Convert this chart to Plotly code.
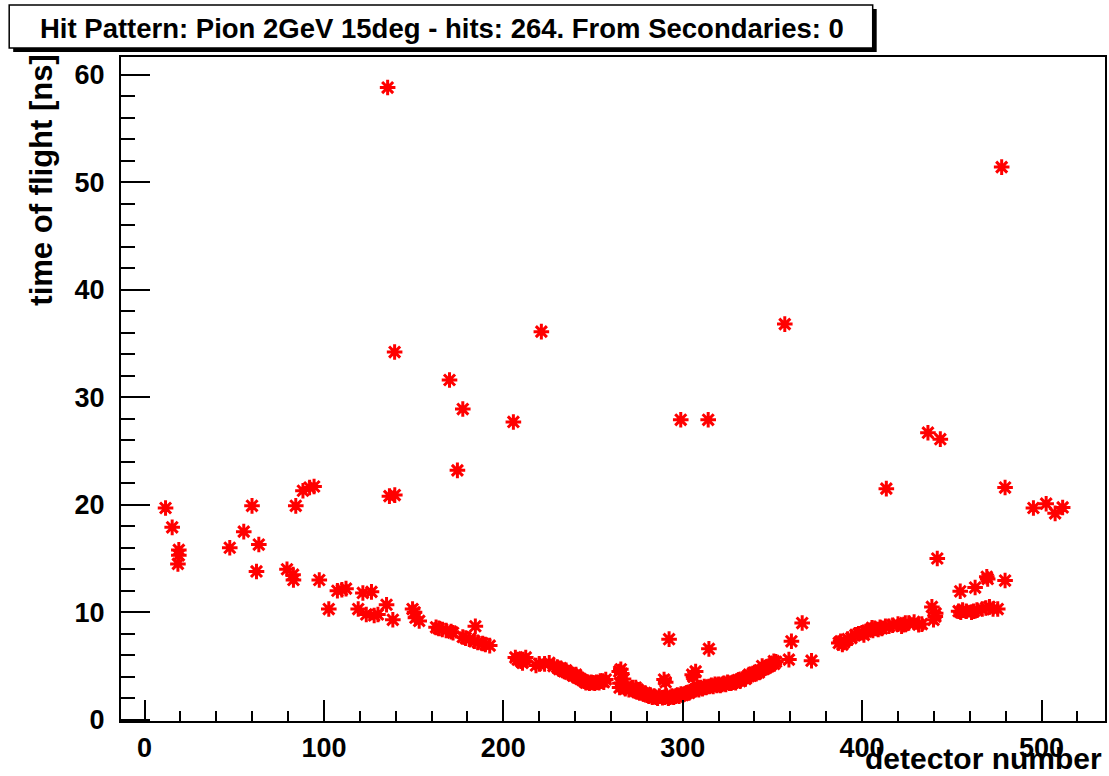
import plotly.graph_objects as go

# ---------------- data ----------------
det_left = [11.7, 15.4, 19.1, 19.1, 18.6, 47.5, 55.3, 59.9, 63.7, 62.4, 79.4, 82.8, 83.0,
            84.3, 88.3, 92.0, 94.5, 97.4]
tof_left = [19.7, 17.9, 15.8, 15.3, 14.5, 16.0, 17.5, 19.9, 16.3, 13.8, 14.0, 13.5, 13.0,
            19.9, 21.3, 21.6, 21.7, 13.0]

det_mid1 = [102.7, 107.5, 110.0, 112.3, 119.1, 121.7, 123.6, 126.5, 128.0, 130.1, 134.9, 138.4,
            136.5, 139.5, 135.5, 139.4, 149.4, 150.5, 151.0, 153.1]
tof_mid1 = [10.3, 12.0, 12.1, 12.2, 10.3, 11.8, 9.8, 11.9, 9.7, 9.8, 10.7, 9.3,
            20.8, 20.9, 58.8, 34.2, 10.3, 10.0, 9.5, 9.2]

det_mid2 = [162.5, 164.0, 166.0, 168.1, 170.9, 172.0, 174.4, 170.0, 177.4, 177.4, 179.0, 181.0,
            183.9, 184.4, 185.7, 188.5, 190.0, 192.4, 205.6, 206.7, 208.0, 209.8, 211.0, 210.7,
            212.5, 218.2, 220.0, 221.2, 223.0, 225.6, 228.0]
tof_mid2 = [8.6, 8.5, 8.4, 8.3, 8.2, 8.1, 23.2, 31.6, 28.9, 7.7, 7.6, 7.5,
            7.3, 8.7, 7.2, 7.1, 7.0, 6.9, 27.7, 5.8, 5.6, 5.45, 5.6, 5.3,
            5.8, 5.05, 5.2, 36.1, 5.2, 5.3, 5.0]

det_band = [230, 231.2, 232, 233, 234, 235, 236, 237, 238.6, 239, 240.5, 241, 242, 243, 244,
            245, 246, 247, 248, 249, 250, 251, 252, 253.4, 254, 255.3, 256, 257.1,
            264.6, 265.5, 266, 264.8, 265, 266.5, 267, 268, 269, 270, 271, 272, 273, 273.8,
            274.5, 275, 276, 277, 278, 279, 280, 281.2, 282, 283, 284, 285, 286, 287, 288.7,
            289.6, 290.5, 290, 291, 292, 292.4, 293, 294, 295, 296.1, 297, 298, 298.9, 299,
            300, 301, 302, 303.5, 304, 305.3, 306, 307.2, 305, 307, 308, 309, 310, 311, 312,
            313, 314.2, 314.6, 314.6, 316, 317, 318, 319, 320, 321, 322, 323, 324, 325, 326,
            327, 328, 329.5, 330, 331, 332, 333, 334, 335, 336.9, 337, 338, 339, 340, 341,
            342.5, 343, 344.3, 345, 346, 347, 348, 349, 350.8, 351, 352, 356.9, 359.2, 360.6,
            366.6, 371.8]
tof_band = [4.9, 4.7, 4.8, 4.6, 4.5, 4.6, 4.4, 4.3, 4.2, 4.1, 4.2, 4.0, 3.9, 3.8, 3.7,
            3.6, 3.45, 3.5, 3.4, 3.5, 3.45, 3.4, 3.5, 3.45, 3.6, 3.6, 3.5, 3.75,
            4.5, 4.7, 4.3, 3.0, 3.4, 3.1, 3.8, 2.9, 3.1, 2.8, 2.9, 3.0, 2.7, 3.0,
            2.6, 2.8, 2.5, 2.6, 2.4, 2.5, 2.3, 2.2, 2.3, 2.1, 2.2, 2.1, 2.0, 2.2, 2.05,
            3.75, 3.5, 2.1, 2.2, 2.0, 7.5, 2.1, 2.2, 2.1, 2.2, 2.3, 2.2, 27.9, 2.4,
            2.3, 2.4, 2.5, 2.5, 2.6, 4.2, 4.0, 4.5, 2.7, 2.8, 2.9, 2.8, 3.0, 2.9, 3.1,
            3.0, 27.9, 6.6, 3.1, 3.2, 3.1, 3.3, 3.2, 3.3, 3.2, 3.3, 3.4, 3.3, 3.5, 3.4,
            3.4, 3.5, 3.45, 3.6, 3.7, 3.6, 3.8, 3.9, 3.8, 4.05, 4.2, 4.1, 4.3, 4.4, 4.3,
            4.4, 4.6, 5.0, 4.7, 4.8, 4.9, 5.0, 5.1, 5.45, 5.2, 5.4, 36.8, 5.6, 7.3,
            9.0, 5.5]

det_right = [387, 388, 389, 390, 392, 394, 396.3, 398, 400, 401, 402, 403, 405.5, 406, 407,
             409, 410, 411, 413, 413.5, 415, 417, 420, 422, 423.2, 424.1, 426, 429, 431.5,
             433.3, 436.7, 438.9, 439.8, 440.8, 441, 441.9, 443.6,
             453.8, 455, 456, 454.7, 458, 461, 462.3, 463, 464, 467, 469.5, 470, 469, 471,
             473, 475.6, 477.8, 479.7, 479.7, 495.5, 502.6, 507.6, 511.8]
tof_right = [7.15, 7.3, 7.0, 7.2, 7.5, 7.6, 7.9, 8.0, 8.1, 7.9, 8.2, 8.3, 8.55, 8.3, 8.5,
             8.4, 8.6, 8.5, 8.7, 21.5, 8.7, 8.8, 8.9, 8.7, 8.85, 9.0, 9.0, 9.1, 8.85,
             8.9, 26.7, 10.5, 9.3, 9.6, 9.9, 15.0, 26.1,
             10.1, 10.0, 10.2, 11.95, 10.1, 10.0, 10.1, 12.3, 10.2, 10.3, 13.3, 13.1, 10.4, 10.5,
             10.3, 10.3, 51.4, 21.6, 12.95, 19.7, 20.1, 19.2, 19.75]

detector = det_left + det_mid1 + det_mid2 + det_band + det_right
tof = tof_left + tof_mid1 + tof_mid2 + tof_band + tof_right

title_text = "Hit Pattern: Pion 2GeV 15deg - hits: 264. From Secondaries: 0"
x_title = "detector number"
y_title = "time of flight [ns]"

# ---------------- layout geometry (pixels) ----------------
W, H = 1109, 776
L, R, T, B = 121, 1106.7, 57, 721.5
FONT = "Liberation Sans"


def px(x):
    return (x - L) / (R - L)


def py(y):
    return (B - y) / (B - T)


fig = go.Figure()
fig.add_trace(go.Scatter(
    x=detector, y=tof, mode="markers",
    marker=dict(symbol="asterisk-open", size=13, color="red",
                line=dict(color="red", width=3)),
    hoverinfo="x+y", showlegend=False,
))

axis_common = dict(
    showgrid=False, zeroline=False, showline=True, linecolor="black", linewidth=2,
    mirror=True, ticks="inside", tickcolor="black", tickwidth=2,
    tickfont=dict(family=FONT, size=27, color="black", weight="bold"),
)

fig.update_xaxes(
    range=[-13.13, 535.4], tick0=0, dtick=100, ticklen=21,
    minor=dict(ticks="inside", dtick=20, ticklen=10, tickwidth=2, tickcolor="black"),
    ticklabelstandoff=2,
    **axis_common,
)
fig.update_yaxes(
    range=[-0.11, 61.64], tick0=0, dtick=10, ticklen=29,
    minor=dict(ticks="inside", dtick=2, ticklen=14, tickwidth=2, tickcolor="black"),
    ticklabelstandoff=9,
    **axis_common,
)

shapes = [
    # title box shadow
    dict(type="rect", xref="paper", yref="paper",
         x0=px(13), x1=px(878), y0=py(9), y1=py(52),
         fillcolor="black", line=dict(width=0), layer="above"),
    # title box
    dict(type="rect", xref="paper", yref="paper",
         x0=px(9), x1=px(874), y0=py(5), y1=py(48),
         fillcolor="white", line=dict(color="black", width=1.5), layer="above"),
]

annotations = [
    dict(text=title_text, xref="paper", yref="paper", x=px(443), y=py(28),
         xanchor="center", yanchor="middle", showarrow=False,
         font=dict(family=FONT, size=27.5, color="black", weight="bold")),
    dict(text=x_title, xref="paper", yref="paper", x=px(1106), y=py(759),
         xanchor="right", yanchor="middle", showarrow=False,
         font=dict(family=FONT, size=30, color="black", weight="bold")),
    dict(text=y_title, xref="paper", yref="paper", x=px(41), y=py(53),
         xanchor="center", yanchor="top", showarrow=False, textangle=-90,
         font=dict(family=FONT, size=31, color="black", weight="bold")),
]

fig.update_layout(
    width=W, height=H,
    margin=dict(l=L, r=W - R, t=T, b=H - B, pad=0),
    paper_bgcolor="white", plot_bgcolor="white",
    shapes=shapes, annotations=annotations,
)

fig.write_html("out.html", include_plotlyjs=True, full_html=True,
               config={"displayModeBar": False})
